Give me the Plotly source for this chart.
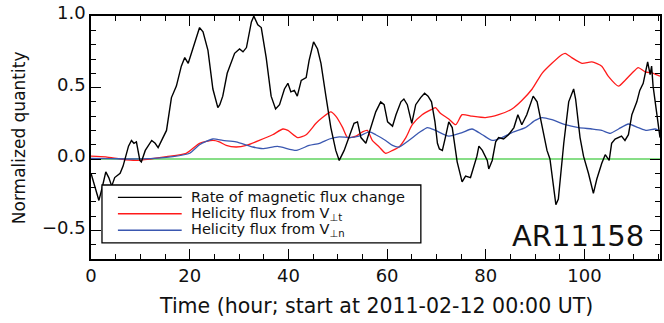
import plotly.graph_objects as go

# Rate of magnetic flux change (normalized)
t_flux = [0.0, 0.6, 1.1, 1.6, 2.2, 3.0, 3.6, 4.2, 4.8, 5.9, 6.5, 7.1, 7.6, 8.2, 8.7, 9.2,
          9.9, 10.2, 11.0, 12.3, 13.0, 13.6, 14.3, 15.3, 16.3, 17.3, 18.3, 19.0, 19.7,
          20.7, 21.4, 22.0, 22.7, 23.7, 24.7, 25.7, 26.1, 26.7, 27.6, 29.1, 30.1, 30.8,
          31.5, 32.5, 33.0, 33.8, 34.5, 35.5, 36.5, 37.4, 38.2, 39.2, 39.9, 40.5, 41.2,
          41.8, 42.6, 43.6, 44.2, 45.1, 45.9, 46.6, 47.6, 48.6, 49.6, 50.3, 51.3, 52.3,
          53.3, 54.0, 54.7, 55.7, 56.7, 57.7, 58.7, 59.4, 60.1, 61.1, 61.8, 62.8, 63.4,
          64.1, 65.0, 65.8, 66.8, 67.6, 68.3, 69.0, 69.7, 70.2, 70.6, 71.2, 71.8, 72.5,
          73.2, 74.2, 75.2, 75.9, 76.9, 77.6, 78.2, 78.6, 79.3, 80.3, 80.6, 81.3, 82.0,
          82.6, 83.6, 84.6, 85.7, 86.5, 87.3, 88.3, 89.6, 90.4, 91.4, 92.4, 93.0, 93.7,
          94.2, 94.7, 95.4, 95.8, 96.8, 97.8, 98.2, 99.1, 99.8, 100.8, 101.8, 102.5,
          103.5, 104.2, 105.0, 105.5, 106.2, 106.9, 107.5, 108.2, 108.9, 109.6, 110.6,
          111.2, 111.9, 112.8, 113.3, 113.6, 113.9, 114.6, 115.3]
v_flux = [-0.10, -0.17, -0.23, -0.29, -0.21, -0.09, -0.13, -0.19, -0.13, -0.10, -0.05,
          0.02, 0.09, 0.13, 0.11, 0.12, -0.01, -0.02, 0.06, 0.13, 0.11, 0.08, 0.13, 0.20,
          0.43, 0.51, 0.65, 0.71, 0.67, 0.78, 0.87, 0.92, 0.89, 0.76, 0.49, 0.36, 0.38,
          0.44, 0.60, 0.74, 0.77, 0.75, 0.78, 0.96, 1.00, 0.94, 0.92, 0.71, 0.44, 0.35,
          0.38, 0.49, 0.53, 0.47, 0.48, 0.44, 0.55, 0.57, 0.69, 0.82, 0.77, 0.67, 0.44,
          0.22, 0.06, -0.01, 0.06, 0.15, 0.25, 0.26, 0.15, 0.11, 0.22, 0.33, 0.40, 0.38,
          0.26, 0.23, 0.31, 0.40, 0.42, 0.38, 0.25, 0.38, 0.43, 0.46, 0.44, 0.40, 0.26,
          0.11, 0.07, 0.06, 0.15, 0.26, 0.22, -0.02, -0.16, -0.12, -0.13, -0.05, 0.02,
          0.09, 0.06, -0.01, -0.07, -0.01, 0.12, 0.15, 0.14, 0.17, 0.22, 0.31, 0.24, 0.31,
          0.44, 0.40, 0.22, 0.06, 0.00, -0.19, -0.32, -0.28, -0.03, 0.11, 0.40, 0.49, 0.42,
          0.15, 0.02, -0.10, -0.24, -0.14, -0.03, 0.03, -0.01, 0.11, 0.14, 0.15, 0.16,
          0.13, 0.17, 0.31, 0.40, 0.48, 0.53, 0.68, 0.59, 0.65, 0.51, 0.33, 0.15]

# Helicity flux from V_perp,t (normalized)
t_hel_t = [0.0, 3.0, 6.0, 9.0, 12.0, 15.3, 19.3, 22.0, 24.7, 26.0, 27.4, 29.4, 31.5,
           34.1, 36.8, 38.9, 39.9, 41.9, 43.6, 45.6, 46.9, 48.6, 49.6, 51.0, 52.0, 53.7,
           55.0, 56.0, 57.0, 58.4, 59.7, 61.1, 62.4, 63.8, 65.1, 67.1, 69.2, 69.8, 70.8,
           72.5, 73.9, 75.2, 77.2, 79.9, 82.6, 85.3, 87.3, 89.4, 91.4, 93.4, 95.4, 96.1,
           97.4, 99.5, 101.5, 103.5, 104.8, 106.9, 108.2, 109.6, 110.9, 112.3, 113.9, 115.3]
v_hel_t = [0.02, 0.015, 0.0, -0.01, 0.0, 0.016, 0.04, 0.11, 0.13, 0.12, 0.095, 0.084,
           0.095, 0.13, 0.17, 0.21, 0.20, 0.15, 0.17, 0.25, 0.29, 0.33, 0.30, 0.22, 0.15,
           0.16, 0.19, 0.20, 0.13, 0.084, 0.04, 0.06, 0.084, 0.15, 0.24, 0.31, 0.35, 0.36,
           0.32, 0.28, 0.24, 0.31, 0.30, 0.29, 0.31, 0.35, 0.41, 0.49, 0.60, 0.67, 0.73,
           0.74, 0.71, 0.67, 0.68, 0.65, 0.58, 0.51, 0.55, 0.60, 0.64, 0.61, 0.60, 0.58]

# Helicity flux from V_perp,n (normalized)
t_hel_n = [0.0, 4.0, 8.0, 12.0, 16.6, 20.0, 22.0, 24.7, 26.7, 29.4, 32.8, 34.8, 37.8,
           41.6, 44.2, 46.3, 48.3, 50.3, 52.3, 54.3, 56.4, 57.7, 59.7, 61.1, 62.4, 64.4,
           66.5, 68.2, 69.8, 72.5, 75.2, 77.2, 79.3, 81.3, 83.3, 85.3, 88.0, 90.0, 91.4,
           93.4, 96.1, 98.8, 101.5, 103.5, 105.2, 106.9, 108.9, 110.9, 112.6, 114.3, 115.3]
v_hel_n = [0.005, 0.003, 0.0, 0.003, 0.016, 0.04, 0.10, 0.14, 0.13, 0.12, 0.084, 0.072,
           0.088, 0.06, 0.095, 0.11, 0.14, 0.155, 0.15, 0.16, 0.19, 0.17, 0.13, 0.095,
           0.084, 0.13, 0.185, 0.22, 0.20, 0.16, 0.185, 0.21, 0.17, 0.13, 0.15, 0.185,
           0.22, 0.27, 0.29, 0.275, 0.24, 0.22, 0.21, 0.20, 0.18, 0.21, 0.245, 0.22, 0.20,
           0.21, 0.195]

# Zero reference line
t_zero = [0.0, 115.3]
v_zero = [0.0, 0.0]

x_ticks = [0, 20, 40, 60, 80, 100]
y_ticks = [-0.5, 0.0, 0.5, 1.0]
y_tick_text = ["\u22120.5", "0.0", "0.5", "1.0"]

legend_labels = ["Rate of magnetic flux change",
                 "Helicity flux from V<sub>\u22a5t</sub>",
                 "Helicity flux from V<sub>\u22a5n</sub>"]

FONT = "DejaVu Sans"
TEXT = "#111111"
BLACK = "#000000"
RED = "#ff1a1a"
BLUE = "#3a57b0"
GREEN = "#5fd35f"
legend_colors = [BLACK, RED, BLUE]

fig = go.Figure()
fig.add_trace(go.Scatter(x=t_zero, y=v_zero, mode="lines", showlegend=False,
                         line=dict(color=GREEN, width=1.3)))
fig.add_trace(go.Scatter(x=t_hel_t, y=v_hel_t, mode="lines", showlegend=False,
                         name=legend_labels[1],
                         line=dict(color=RED, width=1.3, shape="spline", smoothing=0.6)))
fig.add_trace(go.Scatter(x=t_hel_n, y=v_hel_n, mode="lines", showlegend=False,
                         name=legend_labels[2],
                         line=dict(color=BLUE, width=1.3, shape="spline", smoothing=0.6)))
fig.add_trace(go.Scatter(x=t_flux, y=v_flux, mode="lines", showlegend=False,
                         name=legend_labels[0],
                         line=dict(color=BLACK, width=1.4)))

axis_common = dict(
    showgrid=False, zeroline=False, showline=True, linecolor="black", linewidth=1.5,
    ticks="inside", ticklen=10, tickwidth=1.2, tickcolor="black", mirror="allticks",
    tickfont=dict(family=FONT, size=18, color=TEXT), ticklabeloverflow="allow",
)

fig.update_xaxes(range=[0, 115.3], tickvals=x_ticks,
                 minor=dict(dtick=5, tick0=0, ticks="inside", ticklen=5, tickwidth=1.2,
                            tickcolor="black"),
                 **axis_common)
fig.update_yaxes(range=[-0.7, 1.001], tickvals=y_ticks, ticktext=y_tick_text,
                 ticklabelshift=-3,
                 minor=dict(dtick=0.1, tick0=0, ticks="inside", ticklen=5, tickwidth=1.2,
                            tickcolor="black"),
                 **axis_common)

# Boxed key in the lower-left corner of the plotting area (paper coordinates)
box_x0, box_x1, box_y0, box_y1 = 0.0193, 0.5797, 0.066, 0.3045
key_x0, key_x1, key_text_x = 0.0473, 0.1594, 0.1746
key_rows = [0.2536, 0.186, 0.1184]

shapes = [dict(type="rect", xref="paper", yref="paper", x0=box_x0, x1=box_x1,
               y0=box_y0, y1=box_y1, line=dict(color="black", width=1.3),
               fillcolor="white", layer="above")]
annotations = []
for label, color, row in zip(legend_labels, legend_colors, key_rows):
    shapes.append(dict(type="line", xref="paper", yref="paper", x0=key_x0, x1=key_x1,
                       y0=row, y1=row, line=dict(color=color, width=1.4), layer="above"))
    annotations.append(dict(text=label, xref="paper", yref="paper", x=key_text_x,
                            y=row, xanchor="left", yanchor="middle", showarrow=False,
                            borderpad=0, font=dict(family=FONT, size=14.5, color=TEXT)))

annotations += [
    dict(text="Time (hour; start at 2011-02-12 00:00 UT)", xref="paper", yref="paper",
         x=0.5, y=-0.135, xanchor="center", yanchor="top", showarrow=False,
         font=dict(family=FONT, size=20.5, color=TEXT)),
    dict(text="Normalized quantity", xref="paper", yref="paper", textangle=-90,
         x=-0.127, y=0.5, xanchor="center", yanchor="middle", showarrow=False,
         font=dict(family=FONT, size=17, color=TEXT)),
    dict(text="AR11158", xref="paper", yref="paper", x=0.975, y=0.094,
         xanchor="right", yanchor="middle", showarrow=False,
         font=dict(family=FONT, size=29, color=TEXT)),
]

fig.update_layout(
    width=664, height=323,
    margin=dict(l=91, r=2, t=8, b=64),
    paper_bgcolor="white", plot_bgcolor="white",
    font=dict(family=FONT, color=TEXT),
    shapes=shapes,
    annotations=annotations,
)

fig.write_html("out.html")
